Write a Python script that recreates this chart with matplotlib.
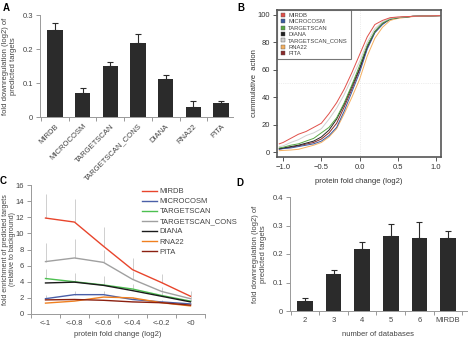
import matplotlib
matplotlib.use('Agg')
import matplotlib.pyplot as plt
import numpy as np

plt.rcParams['font.family'] = ['Liberation Sans', 'DejaVu Sans']

# Panel A: downregulation by database
a_labels = ['MIRDB', 'MICROCOSM', 'TARGETSCAN', 'TARGETSCAN_CONS', 'DIANA', 'RNA22', 'PITA']
a_values = [0.255, 0.072, 0.150, 0.218, 0.113, 0.028, 0.041]
a_errors = [0.022, 0.013, 0.012, 0.027, 0.010, 0.018, 0.005]

# Panel B: cumulative distributions
b_x = [-1.05, -1.0, -0.9, -0.8, -0.7, -0.6, -0.5, -0.4, -0.3, -0.2, -0.1, 0.0,
       0.1, 0.2, 0.3, 0.4, 0.5, 0.7, 1.05]
b_pita = [2.2, 2.7, 3.5, 4.5, 5.8, 7, 9.5, 14, 21, 33, 46, 60, 76, 87.5, 93.5, 97, 98, 99, 99.5]
b_rna22 = [1, 1.2, 1.5, 2, 3.5, 5, 7, 11, 17, 28, 40, 53, 70, 83, 91, 96, 97.5, 98.8, 99.5]
b_microcosm = [2, 2.5, 3, 4, 5, 6, 8, 12, 18, 30, 44, 58, 75, 87, 93, 97, 98, 99, 99.5]
b_diana = [2.5, 3, 4, 5, 6.5, 8, 11, 16, 24, 35, 48, 61, 77, 88, 94, 97, 98, 99, 99.5]
b_targetscan = [3, 3.5, 5, 6, 8, 10, 14, 18, 25, 36, 49, 63, 78, 88, 94, 97, 98, 99, 99.5]
b_cons = [4, 4.5, 7, 9, 12, 14, 17, 24, 32, 42, 54, 66, 80, 90, 95, 97.5, 98.3, 99, 99.5]
b_mirdb = [6, 7, 10, 13, 15, 18, 21, 28, 36, 46, 58, 71, 84, 93, 96, 98, 98.5, 99, 99.5]

# Panel C: enrichment vs fold change threshold
c_cats = ['<-1', '<-0.8', '<-0.6', '<-0.4', '<-0.2', '<0']
c_mirdb = [11.9, 11.4, 8.4, 5.5, 3.9, 2.2]
c_mirdb_err = [3.0, 2.9, 2.4, 1.4, 1.1, 0.7]
c_microcosm = [1.9, 2.4, 2.4, 1.8, 1.5, 1.25]
c_microcosm_err = [0.5, 0.5, 0.5, 0.3, 0.2, 0.1]
c_targetscan = [4.4, 4.0, 3.6, 3.1, 2.3, 1.6]
c_targetscan_err = [1.2, 1.1, 1.1, 0.6, 0.4, 0.2]
c_cons = [6.5, 6.95, 6.4, 4.3, 2.8, 1.9]
c_cons_err = [2.3, 2.35, 1.5, 1.0, 0.6, 0.3]
c_diana = [3.85, 3.95, 3.55, 2.9, 2.2, 1.5]
c_rna22 = [1.35, 1.6, 2.1, 2.0, 1.4, 1.0]
c_pita = [1.75, 1.8, 1.7, 1.5, 1.4, 1.1]

# Panel D: number of databases
d_labels = ['2', '3', '4', '5', '6', 'MIRDB']
d_values = [0.034, 0.130, 0.219, 0.262, 0.257, 0.257]
d_errors = [0.013, 0.014, 0.024, 0.045, 0.057, 0.022]

W, H = 468, 340
fig = plt.figure(figsize=(W / 100, H / 100), dpi=100)
tc = '#444444'
fs = 5.5


def px_axes(left, top, right, bottom):
    return fig.add_axes([left / W, 1 - bottom / H, (right - left) / W, (bottom - top) / H])


def excel_style(ax, n):
    for s in ['top', 'right']:
        ax.spines[s].set_visible(False)
    for s in ['left', 'bottom']:
        ax.spines[s].set_color('#999999')
        ax.spines[s].set_linewidth(0.7)
    ax.set_xticks(np.arange(n))
    ax.set_xticks(np.arange(n + 1) - 0.5, minor=True)
    ax.tick_params(axis='x', which='major', length=0, labelsize=fs, colors=tc, pad=4)
    ax.tick_params(axis='x', which='minor', length=3, color='#999999', width=0.7)
    ax.tick_params(axis='y', length=3, color='#999999', width=0.7, labelsize=fs, labelcolor=tc, pad=2)


# ---- A ----
axA = px_axes(40, 15, 233, 117)
xa = np.arange(len(a_labels))
axA.bar(xa, a_values, width=0.55, color='#2b2b2b', yerr=[np.zeros(7), a_errors],
        error_kw=dict(ecolor='#2b2b2b', elinewidth=0.8, capsize=2, capthick=0.8))
excel_style(axA, 7)
axA.set_xlim(-0.54, 6.43)
axA.set_ylim(0, 0.3)
axA.set_yticks([0, 0.1, 0.2, 0.3])
axA.set_yticklabels(['0', '0.1', '0.2', '0.3'])
axA.set_xticklabels(a_labels, rotation=45, ha='right', rotation_mode='anchor')
axA.set_ylabel('fold downregulation (log2) of\npredicted targets', fontsize=fs, color=tc, labelpad=4)
fig.text(3 / W, 1 - 3 / H, 'A', fontsize=7, fontweight='bold', va='top')

# ---- B ----
axB = px_axes(277, 10, 441, 157)
b_series = [('PITA', b_pita, '#8b2a2a'), ('RNA22', b_rna22, '#f5b060'),
            ('MICROCOSM', b_microcosm, '#3a5ba0'), ('DIANA', b_diana, '#222222'),
            ('TARGETSCAN', b_targetscan, '#5aa745'), ('TARGETSCAN_CONS', b_cons, '#d0d0d0'),
            ('MIRDB', b_mirdb, '#e0504a')]
for name, ys, col in b_series:
    axB.plot(b_x, ys, color=col, lw=0.7)
axB.axvline(0, color='#dddddd', lw=0.5, ls=':', zorder=0)
axB.axhline(50, color='#dddddd', lw=0.5, ls=':', zorder=0)
axB.set_xlim(-1.08, 1.065)
axB.set_ylim(-3.6, 103.6)
axB.set_xticks([-1.0, -0.5, 0.0, 0.5, 1.0])
axB.set_yticks([0, 20, 40, 60, 80, 100])
for s in axB.spines.values():
    s.set_color('#555555')
    s.set_linewidth(1.2)
axB.tick_params(length=3, color='#555555', width=0.7, labelsize=fs, labelcolor='#333333', pad=2)
axB.set_xlabel('protein fold change (log2)', fontsize=fs, color='#333333', labelpad=5)
axB.set_ylabel('cummulative  action', fontsize=fs, color='#333333', labelpad=0)
legend_order = ['MIRDB', 'MICROCOSM', 'TARGETSCAN', 'DIANA', 'TARGETSCAN_CONS', 'RNA22', 'PITA']
cols = {n: c for n, _, c in b_series}
handles = [plt.Line2D([], [], ls='none', marker='s', markersize=2.5, markerfacecolor=cols[n],
                      markeredgecolor='#555555', markeredgewidth=0.3) for n in legend_order]
legB = axB.legend(handles, legend_order, loc='upper left', fontsize=4.2, frameon=True,
                  fancybox=False, borderaxespad=0, handlelength=1.0, handletextpad=0.4,
                  labelspacing=0.22, borderpad=0.5)
legB.get_frame().set_edgecolor('#555555')
legB.get_frame().set_linewidth(0.8)
for t in legB.get_texts():
    t.set_color('#444444')
fig.text(237 / W, 1 - 3 / H, 'B', fontsize=7, fontweight='bold', va='top')

# ---- C ----
axC = px_axes(31, 185, 205, 314)
xc = np.arange(len(c_cats))
for vals, errs in [(c_mirdb, c_mirdb_err), (c_cons, c_cons_err),
                   (c_targetscan, c_targetscan_err), (c_microcosm, c_microcosm_err)]:
    axC.errorbar(xc, vals, yerr=[np.zeros(6), errs], fmt='none', ecolor='#c8c8c8',
                 elinewidth=0.6, capsize=0)
c_series = [('MIRDB', c_mirdb, '#e8452c'), ('MICROCOSM', c_microcosm, '#4a5fa8'),
            ('TARGETSCAN', c_targetscan, '#4cc050'), ('TARGETSCAN_CONS', c_cons, '#a0a0a0'),
            ('DIANA', c_diana, '#1a1a1a'), ('RNA22', c_rna22, '#f08020'),
            ('PITA', c_pita, '#8b2010')]
for name, vals, col in c_series:
    axC.plot(xc, vals, color=col, lw=1.0, label=name)
excel_style(axC, 6)
axC.set_xticklabels(c_cats)
axC.set_xlim(-0.5, 5.5)
axC.set_ylim(0, 16)
axC.set_yticks(np.arange(0, 17, 2))
axC.set_xlabel('protein fold change (log2)', fontsize=fs, color=tc, labelpad=3)
axC.set_ylabel('fold enrichment of predicted targets\n(relative to background)',
               fontsize=5.0, color=tc, linespacing=1.0)
axC.yaxis.set_label_coords(-0.088, 0.5)
legC = axC.legend(loc='upper left', bbox_to_anchor=(0.62, 1.0), fontsize=fs, frameon=False,
                  handlelength=2.0, handletextpad=0.3, labelspacing=0.35, borderaxespad=0)
for t in legC.get_texts():
    t.set_color(tc)
fig.text(0 / W, 1 - 176 / H, 'C', fontsize=7, fontweight='bold', va='top')

# ---- D ----
axD = px_axes(290, 197, 467, 311)
xd = np.arange(len(d_labels))
axD.bar(xd, d_values, width=0.55, color='#2b2b2b', yerr=[np.zeros(6), d_errors],
        error_kw=dict(ecolor='#2b2b2b', elinewidth=0.8, capsize=2, capthick=0.8))
excel_style(axD, 6)
axD.set_xticklabels(d_labels)
axD.set_xlim(-0.52, 5.66)
axD.set_ylim(0, 0.4)
axD.set_yticks([0, 0.1, 0.2, 0.3, 0.4])
axD.set_yticklabels(['0', '0.1', '0.2', '0.3', '0.4'])
axD.set_xlabel('number of databases', fontsize=fs, color=tc, labelpad=5)
axD.set_ylabel('fold downregulation (log2) of\npredicted targets', fontsize=fs, color=tc, labelpad=4)
fig.text(236 / W, 1 - 178 / H, 'D', fontsize=7, fontweight='bold', va='top')

fig.savefig('out.png', dpi=100)
